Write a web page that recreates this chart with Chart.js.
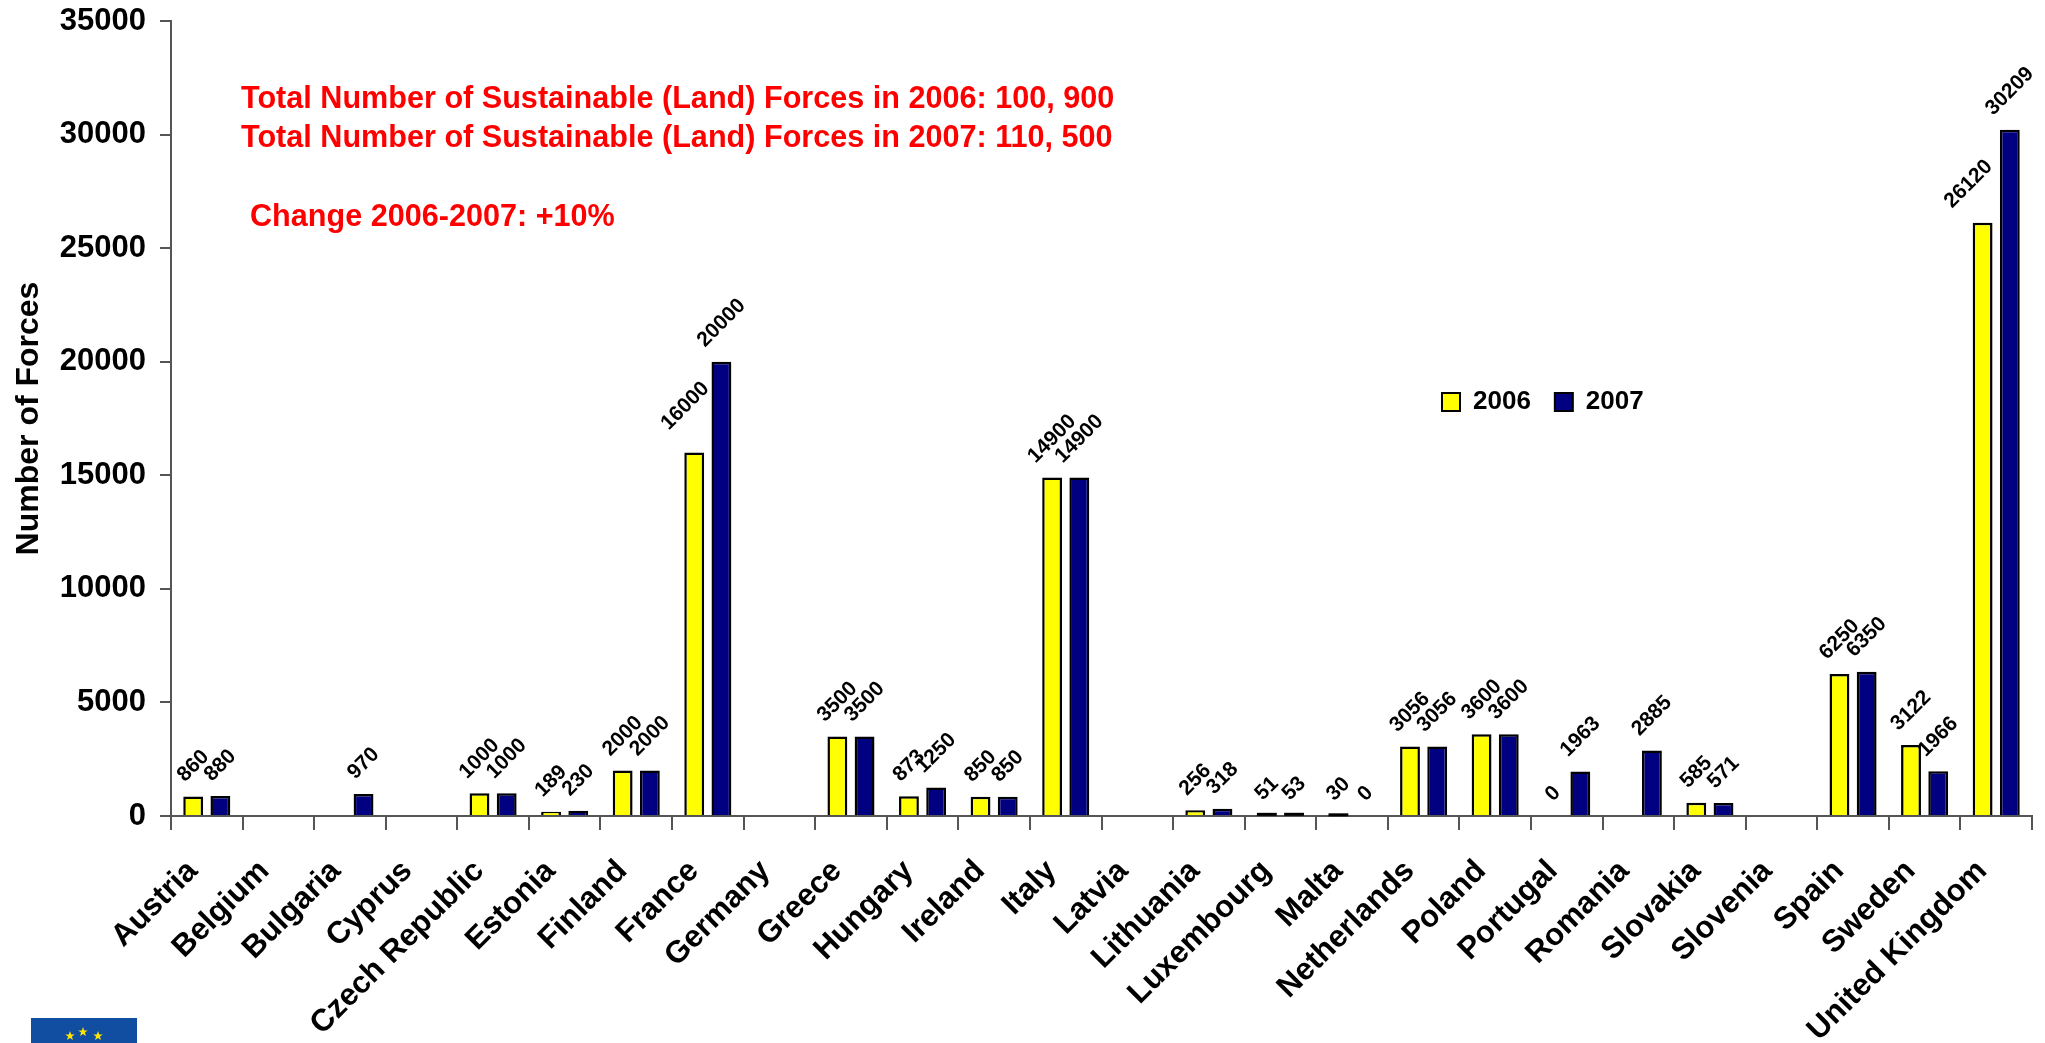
<!DOCTYPE html>
<html><head><meta charset="utf-8">
<style>html,body{margin:0;padding:0;background:#fff}#w{position:relative;width:2045px;height:1043px}</style>
<script src="https://cdn.jsdelivr.net/npm/chart.js@4/dist/chart.umd.min.js"></script>
</head><body><div id="w"><canvas id="c" width="2045" height="1043"></canvas></div>
<script>
const categories = ["Austria","Belgium","Bulgaria","Cyprus","Czech Republic","Estonia","Finland","France","Germany","Greece","Hungary","Ireland","Italy","Latvia","Lithuania","Luxembourg","Malta","Netherlands","Poland","Portugal","Romania","Slovakia","Slovenia","Spain","Sweden","United Kingdom"];
const values2006 = [860,null,null,null,1000,189,2000,16000,null,3500,873,850,14900,null,256,51,30,3056,3600,0,null,585,null,6250,3122,26120];
const values2007 = [880,null,970,null,1000,230,2000,20000,null,3500,1250,850,14900,null,318,53,0,3056,3600,1963,2885,571,null,6350,1966,30209];
const notes = ["Total Number of Sustainable (Land) Forces in 2006: 100, 900","Total Number of Sustainable (Land) Forces in 2007: 110, 500","Change 2006-2007: +10%"];
const FONT='"Liberation Sans", Arial, sans-serif';
const box={l:171,r:2032,t:21,b:816};
const labelNudge={'0:France':[-9,-8],'0:United Kingdom':[-14,0]};

const overlay={id:'overlay',
 beforeLayout(ch){ch.legend.isHorizontal=()=>true;},
 afterLayout(ch){const L=ch.legend;const w=L.right-L.left,h=L.bottom-L.top;L.left=1418;L.top=365;L.right=L.left+w;L.bottom=L.top+h;},
 afterDatasetsDraw(ch){const c=ch.ctx;c.save();
  c.font='bold 21px '+FONT;c.textAlign='center';c.textBaseline='middle';
  ch.data.datasets.forEach((d,i)=>{ch.getDatasetMeta(i).data.forEach((el,j)=>{const v=d.data[j];if(v===null)return;
    if(v>0&&v<100){c.fillStyle='#000';c.fillRect(el.x-el.width/2,el.y-2,el.width,3);}
    c.fillStyle='#000';
    const t=String(v),w=c.measureText(t).width,n=labelNudge[i+':'+categories[j]]||[0,0];
    c.save();c.translate(el.x+n[0],el.y-w/2*Math.SQRT1_2-18+n[1]);c.rotate(-Math.PI/4);c.fillText(t,0,0);c.restore();});});
  c.textAlign='left';c.fillStyle='#f00';c.font='bold 30.6px '+FONT;c.textBaseline='alphabetic';
  c.fillText(notes[0],241,108);c.fillText(notes[1],241,147);c.fillText(notes[2],250,226);
  c.fillStyle='#114ea2';c.fillRect(31,1018,106,25);
  c.fillStyle='#ffe600';[[70,1036],[83,1032],[98,1036]].forEach(([x,y])=>{c.beginPath();for(let k=0;k<10;k++){const r=k%2?2:5,a=-Math.PI/2+k*Math.PI/5;c.lineTo(x+r*Math.cos(a),y+r*Math.sin(a));}c.closePath();c.fill();});
  c.restore();}
};
new Chart(document.getElementById('c'),{type:'bar',plugins:[overlay],
 data:{labels:categories,datasets:[
  {label:'2006',data:values2006,backgroundColor:'#ffff00',borderColor:'#000',borderWidth:2.5},
  {label:'2007',data:values2007,backgroundColor:'#000080',borderColor:'#000',borderWidth:2.5}]},
 options:{responsive:false,animation:false,devicePixelRatio:1,
  layout:{padding:{left:0,right:2045-box.r,top:box.t,bottom:0}},
  datasets:{bar:{categoryPercentage:0.76,barPercentage:0.73}},
  plugins:{tooltip:{enabled:false},
   legend:{position:'chartArea',align:'start',labels:{font:{family:FONT,weight:'bold',size:26},color:'#000',boxWidth:18,boxHeight:18,padding:24,generateLabels(ch){return Chart.defaults.plugins.legend.labels.generateLabels(ch).map(o=>({...o,lineWidth:2}));}}}},
  scales:{
   x:{afterFit(s){s.height=1043-box.b;s.paddingRight=0;s.paddingLeft=0;},grid:{offset:true,drawOnChartArea:false,color:'#555',tickLength:14,lineWidth:2},border:{color:'#555',width:2},
      ticks:{minRotation:45,maxRotation:45,autoSkip:false,color:'#000',padding:23,labelOffset:-14,font:{family:FONT,weight:'bold',size:31}}},
   y:{min:0,max:35000,afterFit(s){s.width=box.l;s.paddingTop=0;s.paddingBottom=0;},grid:{drawOnChartArea:false,color:'#555',tickLength:11,lineWidth:2},border:{color:'#555',width:2},
      ticks:{stepSize:5000,color:'#000',padding:14,font:{family:FONT,weight:'bold',size:31},callback:v=>String(v)},
      title:{display:true,text:'Number of Forces',color:'#000',font:{family:FONT,weight:'bold',size:32},padding:{top:10,bottom:12}}}
  }}});
</script></body></html>
